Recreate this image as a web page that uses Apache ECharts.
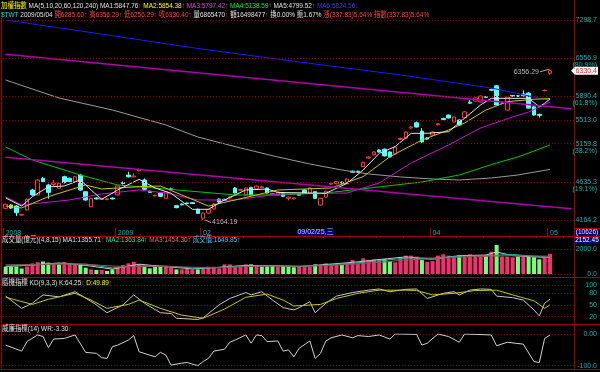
<!DOCTYPE html>
<html><head><meta charset="utf-8">
<script src="https://cdn.jsdelivr.net/npm/echarts@6/dist/echarts.min.js"></script>
<style>html,body{margin:0;padding:0;background:#000;}#c{width:600px;height:372px;}</style>
</head><body><div id="c"></div>
<script>
// ---------------- DATA ----------------
const openP  = [4303,4343,4331,4222,4283,4530,4467,4681,4594,4600,4552,4702,4681,4637,4724,4508,4322,4430,4412,4410,4428,4467,4625,4724,4700,4780,4659,4515,4455,4490,4425,4545,4335,4355,4368,4372,4291,4185,4246,4295,4416,4412,4430,4555,4525,4467,4563,4543,4560,4555,4475,4467,4492,4425,4420,4475,4530,4492,4508,4343,4440,4605,4610,4630,4610,4776,4775,4838,4955,5000,5068,5080,5040,5010,5220,5240,5390,5470,5345,5240,5285,5440,5535,5590,5482,5513,5545,5795,5815,5800,5885,6005,6068,5780,5670,5905,5900,5930,5945,5720,5600,5985,6285.60];
const closeP = [4352,4306,4250,4230,4413,4467,4659,4637,4500,4620,4616,4624,4637,4702,4530,4404,4425,4418,4424,4420,4418,4582,4612,4700,4712,4791,4539,4500,4462,4450,4508,4535,4311,4345,4360,4362,4242,4246,4290,4355,4380,4400,4442,4492,4535,4555,4467,4580,4570,4492,4485,4505,4450,4440,4430,4465,4492,4555,4425,4425,4515,4618,4637,4620,4672,4762,4768,4895,4970,5040,5040,4985,4970,5110,5235,5330,5405,5405,5183,5225,5330,5455,5520,5545,5560,5437,5640,5780,5865,5895,5875,5995,5750,5795,5880,5895,5890,5900,5700,5590,5585,5992.57,6330.40];
const lowP   = [4295,4295,4210,4212,4275,4458,4460,4625,4420,4570,4545,4615,4630,4630,4520,4395,4315,4410,4405,4402,4410,4460,4600,4690,4695,4772,4530,4492,4448,4443,4418,4527,4303,4338,4352,4355,4235,4164.19,4238,4288,4372,4392,4424,4485,4518,4460,4460,4535,4552,4485,4468,4460,4443,4400,4412,4458,4485,4486,4418,4335,4433,4598,4602,4612,4603,4755,4760,4830,4947,4993,5032,4975,4962,5000,5210,5232,5380,5398,5170,5215,5277,5430,5510,5536,5474,5428,5535,5770,5805,5790,5866,5985,5740,5770,5660,5885,5880,5890,5690,5580,5550,5975,6256.29];
const highP  = [4360,4355,4340,4236,4425,4545,4670,4700,4610,4659,4625,4715,4690,4710,4740,4515,4432,4438,4430,4428,4436,4590,4640,4768,4744,4810,4680,4522,4470,4498,4515,4560,4345,4362,4375,4380,4300,4252,4296,4365,4424,4420,4450,4565,4545,4562,4570,4588,4578,4562,4492,4512,4500,4446,4437,4482,4538,4562,4515,4432,4522,4630,4645,4640,4680,4785,4782,4905,4980,5050,5078,5090,5050,5120,5248,5340,5418,5490,5390,5252,5340,5468,5548,5600,5570,5522,5650,5830,5875,5905,5895,6020,6080,5805,5890,5915,5912,5990,5960,5730,5612,6005,6356.29];
const volume = [600,600,600,450,620,870,960,1020,930,870,800,980,870,790,790,520,380,330,330,250,380,520,740,870,1000,800,680,460,600,600,600,520,380,380,520,380,380,460,600,600,460,790,790,650,650,790,790,650,600,650,700,600,650,600,550,600,600,600,790,700,870,790,735,735,870,1140,870,1280,1140,1200,1225,1225,1060,950,1365,1500,1500,1420,1140,1000,1060,1500,1610,1500,1420,1500,1420,1610,1500,1500,1500,1825,2370,1420,1420,1365,1420,1420,1420,1365,1200,1365,1650];
const prevCloseFirstDay = 4380; // close of the day before the first bar (first volume bar is green)

// moving averages and indicators: [day index, value]
const ma5   = [[0,4430],[3,4331],[5,4446],[8,4569],[11,4581],[14,4659],[16,4530],[18,4413],[21,4530],[25,4668],[28,4556],[31,4488],[35,4291],[38,4291],[41,4405],[45,4530],[49,4543],[51,4499],[60,4488],[64,4617],[67,4791],[70,5020],[73,5116],[76,5311],[79,5311],[83,5335],[86,5540],[89,5751],[91,5859],[94,5859],[98,5859],[100,5723],[101,5778],[102,5847.76]];
const ma10  = [[0,4331],[3,4307],[8,4446],[15,4594],[18,4543],[25,4572],[29,4581],[33,4467],[38,4331],[43,4405],[51,4530],[61,4556],[67,4703],[72,4974],[78,5212],[83,5360],[86,5467],[90,5670],[94,5804],[99,5843],[102,5854.38]];
const ma20  = [[0,4442],[3,4344],[12,4405],[18,4480],[25,4530],[30,4492],[36,4405],[43,4405],[51,4480],[64,4492],[70,4620],[76,4887],[83,5140],[89,5391],[95,5560],[98,5638],[102,5797.42]];
const ma60  = [[0,5111],[5,4928],[14,4725],[21,4594],[30,4543],[43,4467],[51,4467],[60,4492],[70,4569],[78,4633],[85,4725],[92,4887],[96,4970],[102,5138.59]];
const ma120 = [[0,6168],[10,5864],[20,5670],[30,5437],[36,5257],[44,5097],[51,4970],[57,4873],[63,4791],[68,4738],[74,4699],[80,4672],[85,4659],[91,4685],[96,4725],[102,4799.52]];
const ma240 = [[0,7298.7],[18,7016],[36,6738],[55,6488],[74,6256],[91,6031],[102,5824.56]];
const trendUpper = [[0,6628],[106,5691]];
const trendLower = [[0,4966],[106,4297]];

const volMa1 = [[0,600],[5,750],[10,900],[15,700],[20,400],[25,800],[30,600],[35,420],[40,550],[45,700],[50,680],[55,600],[60,780],[65,950],[70,1180],[75,1400],[80,1200],[85,1500],[90,1550],[92,1800],[95,1500],[100,1380],[102,1355.71]];
const volMa2 = [[0,650],[5,700],[10,880],[15,800],[20,500],[25,650],[30,650],[35,480],[40,520],[45,650],[50,680],[55,630],[60,720],[65,880],[70,1080],[75,1300],[80,1300],[85,1450],[90,1500],[95,1600],[100,1420],[102,1363.84]];
const volMa3 = [[0,750],[10,800],[15,800],[20,650],[25,600],[30,620],[35,560],[40,520],[45,600],[50,650],[55,640],[60,680],[65,800],[70,950],[75,1150],[80,1250],[85,1380],[90,1450],[95,1500],[100,1470],[102,1454.30]];

const kLine = [[0,72],[3,41],[5,54],[7,75],[10,70],[13,83],[14,75],[17,50],[19,30],[22,50],[24,75],[26,54],[29,30],[31,28],[32,16],[36,13],[37,17],[40,50],[42,66],[45,81],[46,75],[48,83],[50,62],[52,43],[54,37],[55,43],[57,58],[58,30],[60,54],[62,72],[65,81],[68,87],[70,90],[72,83],[75,89],[77,90],[79,66],[82,79],[84,83],[85,75],[87,87],[89,90],[91,89],[92,72],[95,68],[97,62],[99,37],[100,22],[101,54],[102,64.25]];
const dLine = [[0,69],[5,51],[8,64],[13,79],[16,62],[19,41],[23,51],[25,62],[29,41],[33,24],[37,16],[41,39],[45,69],[49,77],[52,62],[54,47],[59,51],[62,66],[66,79],[70,87],[75,87],[77,86],[80,75],[84,79],[88,86],[92,87],[95,75],[99,60],[101,41],[102,49.89]];
const wrLine = [[0,-35],[3,-54],[4,-24],[6,-3],[7,-8],[8,-43],[9,-16],[11,-14],[13,-3],[15,-58],[17,-61],[18,-75],[19,-77],[20,-40],[21,-35],[23,-19],[24,-5],[25,-56],[28,-72],[29,-58],[30,-66],[31,-98],[33,-92],[34,-90],[36,-100],[37,-87],[38,-77],[39,-54],[41,-48],[42,-26],[43,-19],[45,-3],[46,-29],[47,-3],[48,-5],[49,-24],[51,-22],[52,-54],[53,-50],[54,-72],[55,-45],[57,-22],[58,-77],[59,-61],[60,-22],[61,-12],[63,-3],[65,-12],[66,-5],[68,-8],[70,-3],[72,-16],[73,0],[77,-1],[78,-35],[79,-29],[81,0],[83,-8],[85,-26],[86,0],[91,-3],[92,-37],[94,-26],[97,-32],[99,-87],[100,-90],[101,-14],[102,-3.3]];

// axis ticks / labels
const monthTickIdx  = [0, 21, 37, 57, 80, 102];
const monthTickText = ['2008', '2009', '02', '03', '04', '05'];
const priceLevels    = [7298.7, 6556.9, 5890.4, 5513.0, 5159.8, 4635.3, 4164.2];
const priceLevelText = ['7298.7', '6556.9', '5890.4', '5513.0', '5159.8', '4635.3', '4164.2'];
const priceLevelPct  = ['', '(80.9%)', '(61.8%)', '', '(38.2%)', '(19.1%)', ''];
const volTicks = [0, 2000];
const kdTicks  = [20, 50, 80, 100];
const wrTicks  = [-100, 0];

// ---------------- CHART ----------------
const SLOTS = 107;
const days = Array.from({length: SLOTS}, (_, i) => 'd' + i);
const monthAt = {}; monthTickIdx.forEach((d, k) => { monthAt[d] = monthTickText[k]; });
const FONT = "'Liberation Sans','Noto Sans CJK TC',sans-serif";
const TEAL = '#00b8b8', GRID_RED = '#8a0000', BORDER = '#a80000';
const UP = '#ff3a3a', DOWN = '#55ffff';

const candles = openP.map((o, i) => [o, closeP[i], lowP[i], highP[i]]);
const volBars = volume.map((v, i) => {
  const prev = i === 0 ? prevCloseFirstDay : closeP[i - 1];
  return { value: v, itemStyle: { color: closeP[i] >= prev ? '#f2306e' : '#74ff74' } };
});

const chart = echarts.init(document.getElementById('c'), null, { renderer: 'canvas' });
const G = { left: 3, right: 26 };
function xAx(gi, extra) {
  return Object.assign({ type: 'category', gridIndex: gi, data: days, boundaryGap: true, show: false }, extra || {});
}
function ln(name, data, color, xi, width) {
  return { name, type: 'line', data, xAxisIndex: xi, yAxisIndex: xi, showSymbol: false, symbol: 'none', silent: true,
    lineStyle: { color, width: width || 1 }, z: 3 };
}
const dotted = { color: GRID_RED, type: [1, 2], width: 1 };
const rightLabel = (fmt) => ({ show: true, inside: false, margin: 23, align: 'right', fontSize: 7, fontFamily: FONT, color: TEAL, formatter: fmt });

const option = {
  backgroundColor: '#000',
  animation: false,
  grid: [
    Object.assign({ top: 20, height: 200 }, G),
    Object.assign({ top: 245, height: 29 }, G),
    Object.assign({ top: 285, height: 39.6 }, G),
    Object.assign({ top: 334, height: 31.7 }, G),
    Object.assign({ top: 228, height: 8 }, G)
  ],
  xAxis: [
    xAx(0), xAx(1), xAx(2), xAx(3),
    xAx(4, {
      show: true, position: 'top',
      axisLine: { show: true, lineStyle: { color: BORDER } },
      axisTick: { show: true, inside: true, length: 2, interval: (i) => i % 5 === 0, lineStyle: { color: BORDER } },
      axisLabel: { show: true, inside: true, interval: 0, align: 'left', verticalAlign: 'top', margin: 1.5,
        fontSize: 7, fontFamily: FONT, color: TEAL, formatter: (v, i) => monthAt[i] || '' },
      splitLine: { show: true, interval: (i) => monthAt[i] !== undefined, lineStyle: { color: BORDER } }
    })
  ],
  yAxis: [
    { type: 'log', logBase: 10, gridIndex: 0, min: 4164.2, max: 7298.7, show: false },
    { type: 'value', gridIndex: 1, min: 0, max: 2370, position: 'right',
      axisLine: { show: false }, axisTick: { show: false, customValues: volTicks },
      axisLabel: Object.assign(rightLabel((v) => v.toFixed(1)), { customValues: volTicks }),
      splitLine: { show: true, lineStyle: dotted } },
    { type: 'value', gridIndex: 2, min: 0, max: 100, position: 'right',
      axisLine: { show: false }, axisTick: { show: false, customValues: kdTicks },
      axisLabel: Object.assign(rightLabel((v) => String(v)), { customValues: kdTicks }),
      splitLine: { show: true, lineStyle: dotted } },
    { type: 'value', gridIndex: 3, min: -100, max: 0, position: 'right',
      axisLine: { show: false }, axisTick: { show: false, customValues: wrTicks },
      axisLabel: Object.assign(rightLabel((v) => v === 0 ? '0.00' : v.toFixed(1)), { customValues: wrTicks }),
      splitLine: { show: true, lineStyle: dotted } },
    { type: 'value', gridIndex: 4, show: false }
  ],
  series: [
    { name: 'k', type: 'candlestick', data: candles, xAxisIndex: 0, yAxisIndex: 0, barWidth: 4, silent: true, z: 2,
      itemStyle: { color: '#000', color0: DOWN, borderColor: UP, borderColor0: DOWN, borderWidth: 1 },
      markLine: { silent: true, symbol: 'none', label: { show: false }, lineStyle: dotted,
        data: priceLevels.map((p) => ({ yAxis: p })) } },
    ln('MA240', ma240, '#1a1aff', 0),
    ln('MA120', ma120, '#9a9a9a', 0),
    ln('MA60', ma60, '#00c800', 0),
    ln('MA20', ma20, '#d010d0', 0),
    ln('MA10', ma10, '#c8c800', 0),
    ln('MA5', ma5, '#e6e6e6', 0),
    ln('trendU', trendUpper, '#b000b0', 0, 1.5),
    ln('trendL', trendLower, '#b000b0', 0, 1.5),
    { name: 'vol', type: 'bar', data: volBars, xAxisIndex: 1, yAxisIndex: 1, barWidth: 4, silent: true },
    ln('vma1', volMa1, '#c8c8c8', 1),
    ln('vma2', volMa2, '#20b0a0', 1),
    ln('vma3', volMa3, '#905858', 1),
    ln('K', kLine, '#c8c8c8', 2),
    ln('D', dLine, '#c8c800', 2),
    ln('WR', wrLine, '#d0d0d0', 3)
  ]
};
chart.setOption(option);

// ---------------- annotations / texts ----------------
const px = (i, v) => chart.convertToPixel({ xAxisIndex: 0, yAxisIndex: 0 }, [i, v]);
const T = (x, y, text, fill, extra) => ({ type: 'text', x, y, z: 50, silent: true,
  style: Object.assign({ text, fill, fontSize: 7, fontFamily: FONT, align: 'left', verticalAlign: 'middle' }, extra || {}) });
const L = (x1, y1, x2, y2, color) => ({ type: 'line', z: 40, silent: true, shape: { x1, y1, x2, y2 }, style: { stroke: color || BORDER, lineWidth: 1 } });

const g = [];
// panel borders
g.push(L(1.5, 18, 1.5, 370), L(574.5, 0, 574.5, 370));
g.push(L(1.5, 236.5, 600, 236.5), L(1.5, 277.5, 600, 277.5), L(1.5, 324.5, 600, 324.5), L(1.5, 369.5, 600, 369.5));
g.push(L(574.5, 228.5, 600, 228.5));

// header lines
const rich = {
  y: { fill: '#ffff00' }, w: { fill: '#e0e0e0' }, r: { fill: '#ff4040' }, m: { fill: '#ff30ff' },
  gr: { fill: '#00ff00' }, b: { fill: '#3a3aff' }, c: { fill: '#00e0c0' }, t: { fill: '#20e090' },
  br: { fill: '#d07070' }, cy: { fill: '#40c8ff' }
};
function header(x, y, text) {
  return { type: 'text', x, y, scaleX: 0.86, z: 50, silent: true,
    style: { text, rich, fontSize: 7.5, fontFamily: FONT, fill: '#e0e0e0', align: 'left', verticalAlign: 'middle' } };
}
g.push(header(1, 5.5, '{y|加權指數} {w|MA(5,10,20,60,120,240)} {w|MA1:5847.76}{r|↑} {y|MA2:5854.38}{r|↑} {m|MA3:5797.42}{r|↑} {gr|MA4:5138.59}{r|↑} {w|MA5:4799.52}{r|↑} {b|MA6:5824.56↓}'));
g.push(header(1, 14.5, '{c|$TWT} {w|2009/05/04} {r|開6285.60↑} {r|高6356.29↑} {r|低6256.29↑} {r|收6330.40↑} {w|量6865470}{r|↑} {w|額16498477}{r|↑} {w|換0.00%} {w|振1.67%} {r|漲(337.83)5.64%} {r|指數(337.83)5.64%}'));
g.push(header(2, 240, '{w|成交量(億元)(4,8,15) MA1:1355.71}{r|↑} {t|MA2:1363.84↑} {br|MA3:1454.30↑} {cy|成交值:1649.85↑}'));
g.push(header(2, 282.5, '{w|隨機指標 KD(9,3,3) K:64.25}{r|↑} {y|D:49.89}{r|↑}'));
g.push(header(2, 328.5, '{w|威廉指標(14) WR:-3.30}{r|↑}'));

// right price labels
priceLevels.forEach((p, k) => {
  const y = px(0, p)[1];
  g.push(T(597, y, priceLevelText[k], TEAL, { align: 'right' }));
  if (priceLevelPct[k]) g.push(T(597, y + 7, priceLevelPct[k], TEAL, { align: 'right' }));
});
// last close box
const last = closeP.length - 1;
const cy = px(last, closeP[last])[1];
g.push({ type: 'polygon', z: 45, silent: true, shape: { points: [[571, cy], [575, cy - 4], [598, cy - 4], [598, cy + 4], [575, cy + 4]] }, style: { fill: '#ffffff' } });
g.push(T(597, cy, closeP[last].toFixed(1), '#ff2020', { align: 'right' }));

// high / low annotations
const hiIdx = highP.indexOf(Math.max(...highP));
const loIdx = lowP.indexOf(Math.min(...lowP));
const hp = px(hiIdx, highP[hiIdx]);
g.push(L(hp[0] - 10, hp[1] + 2.5, hp[0] - 1, hp[1], '#b0b0b0'));
g.push(T(hp[0] - 11, hp[1] + 2.5, highP[hiIdx].toFixed(2), '#b8b8b8', { align: 'right' }));
const lp = px(loIdx, lowP[loIdx]);
g.push(L(lp[0] + 2, lp[1], lp[0] + 8, lp[1] + 2.5, '#b0b0b0'));
g.push(T(lp[0] + 9, lp[1] + 2.5, lowP[loIdx].toFixed(2), '#b8b8b8'));

// crosshair date box and right info boxes
g.push({ type: 'rect', z: 45, silent: true, shape: { x: 297, y: 229, width: 37, height: 7 }, style: { fill: '#00007a' } });
g.push(T(315.5, 232.5, '09/02/25,三', '#c8c8ff', { align: 'center' }));
g.push({ type: 'rect', z: 45, silent: true, shape: { x: 575, y: 229, width: 24, height: 7 }, style: { fill: '#00007a' } });
g.push(T(587, 232.5, '(10626)', '#e0e0ff', { align: 'center', fontSize: 6.5 }));
g.push({ type: 'rect', z: 45, silent: true, shape: { x: 575, y: 237, width: 24, height: 7 }, style: { fill: '#00007a' } });
g.push(T(587, 240.5, '2152.45', '#ffffff', { align: 'center', fontSize: 6.5 }));

chart.setOption({ graphic: { elements: g } });
</script>
</body></html>
